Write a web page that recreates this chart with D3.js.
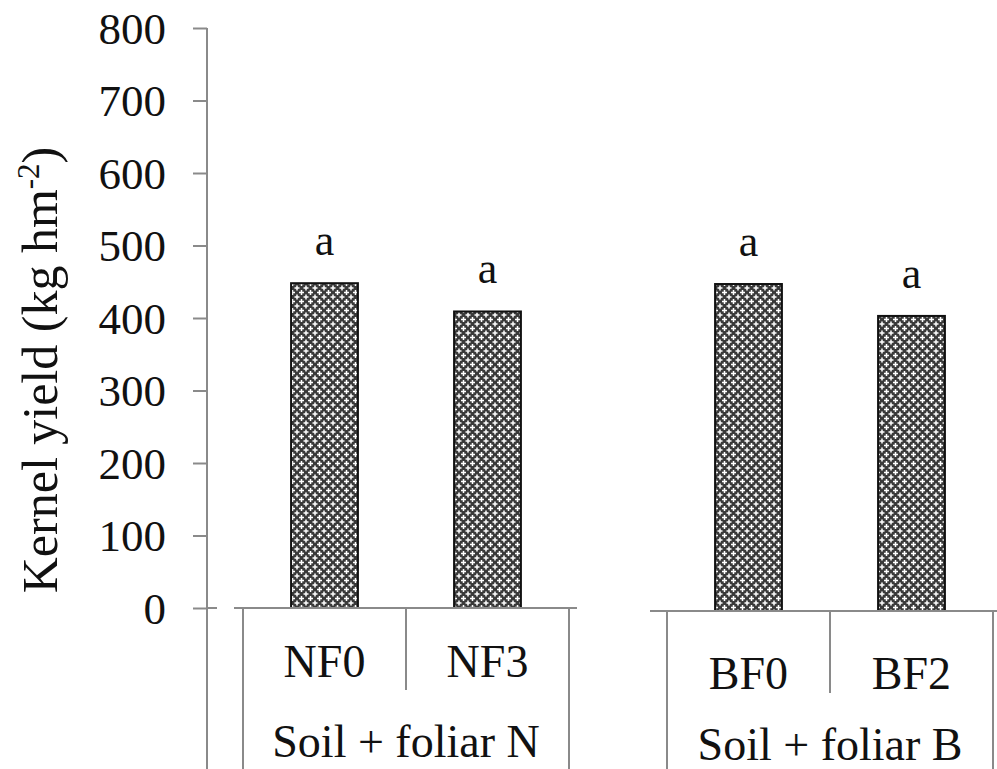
<!DOCTYPE html>
<html><head><meta charset="utf-8">
<script src="https://cdn.jsdelivr.net/npm/d3@7"></script>
<style>body{margin:0;background:#fff}svg{display:block}text{font-family:"Liberation Serif","Times New Roman",serif;fill:#111}</style>
</head><body><svg id="c" width="997" height="769"></svg>
<script>
const groupN = ["NF0","NF3"];
const valuesN = [448, 409];
const lettersN = ["a","a"];
const groupB = ["BF0","BF2"];
const valuesB = [451, 407];
const lettersB = ["a","a"];
const groupLabels = ["Soil + foliar N","Soil + foliar B"];
const yTicks = [0,100,200,300,400,500,600,700,800];
const yTitle = "Kernel yield (kg hm";

const svg = d3.select("#c");
const axisCol = "#8a8a8a";
const FF = "Liberation Serif";
const FS = 46;

// pattern
const defs = svg.append("defs");
const pat = defs.append("pattern").attr("id","hatch").attr("patternUnits","userSpaceOnUse")
  .attr("width",9).attr("height",9);
pat.append("rect").attr("width",9).attr("height",9).attr("fill","#3a3a3a");
[[4.5,4.5],[0,0],[9,0],[0,9],[9,9]].forEach(([cx,cy])=>{
  pat.append("rect").attr("x",cx-0.75).attr("y",cy-2.5).attr("width",1.5).attr("height",5).attr("fill","#fff");
  pat.append("rect").attr("x",cx-2.5).attr("y",cy-0.75).attr("width",5).attr("height",1.5).attr("fill","#fff");
});

// Left y scale/axis
const yL = d3.scaleLinear().domain([0,800]).range([608,28]);
const yAxis = d3.axisLeft(yL).tickValues(yTicks).tickSize(14).tickPadding(27).tickFormat(d3.format("d"));
const gy = svg.append("g").attr("transform","translate(207,0)").call(yAxis);
gy.select(".domain").remove();
gy.selectAll(".tick line").attr("stroke",axisCol).attr("stroke-width",2);
gy.selectAll(".tick text").attr("font-size",45).attr("font-family",FF).attr("fill","#111").attr("dy","0.34em");
svg.append("line").attr("x1",207).attr("x2",207).attr("y1",yL(800)).attr("y2",769).attr("stroke",axisCol).attr("stroke-width",2);
svg.append("line").attr("x1",207).attr("x2",217).attr("y1",yL(0)).attr("y2",yL(0)).attr("stroke",axisCol).attr("stroke-width",2);

// y title
const TS = 50;
svg.append("text").attr("transform","translate(57,370) rotate(-90)").attr("text-anchor","middle")
  .attr("font-size",TS).attr("font-family",FF)
  .call(t=>{t.append("tspan").text(yTitle);
            t.append("tspan").attr("font-size",TS*0.62).attr("dy",-18).text("-2");
            t.append("tspan").attr("dy",18).text(")");});

function panel(cats, vals, letters, label, x0, x1, y, lineStart, lineEnd, catY, grpY){
  const x = d3.scaleBand().domain(cats).range([x0,x1]).paddingInner(0.59).paddingOuter(0.295);
  const xb = d3.scaleBand().domain(cats).range([x0,x1]);
  const g = svg.append("g");
  g.selectAll("rect.bar").data(cats).join("rect").attr("class","bar")
    .attr("x",d=>x(d)).attr("width",x.bandwidth())
    .attr("y",(d,i)=>y(vals[i])).attr("height",(d,i)=>y(0)-y(vals[i]))
    .attr("fill","url(#hatch)").attr("stroke","#111").attr("stroke-width",2);
  g.selectAll("text.let").data(cats).join("text").attr("class","let")
    .attr("x",d=>x(d)+x.bandwidth()/2).attr("y",(d,i)=>y(vals[i])-28)
    .attr("text-anchor","middle").attr("font-size",44).attr("font-family",FF).text((d,i)=>letters[i]);
  g.append("line").attr("x1",lineStart).attr("x2",lineEnd).attr("y1",y(0)).attr("y2",y(0)).attr("stroke",axisCol).attr("stroke-width",2);
  [x0,x1].forEach(v=>g.append("line").attr("x1",v).attr("x2",v).attr("y1",y(0)).attr("y2",769).attr("stroke",axisCol).attr("stroke-width",2));
  g.append("line").attr("x1",xb(cats[1])).attr("x2",xb(cats[1])).attr("y1",y(0)).attr("y2",y(0)+82).attr("stroke",axisCol).attr("stroke-width",2);
  g.selectAll("text.cat").data(cats).join("text").attr("class","cat")
    .attr("x",d=>xb(d)+xb.bandwidth()/2).attr("y",catY).attr("text-anchor","middle")
    .attr("font-size",FS).attr("font-family",FF).text(d=>d);
  g.append("text").attr("x",(x0+x1)/2).attr("y",grpY).attr("text-anchor","middle")
    .attr("font-size",FS).attr("font-family",FF).text(label);
}

panel(groupN, valuesN, lettersN, groupLabels[0], 243, 569, yL, 234, 577, 677, 757);
const yR = d3.scaleLinear().domain([0,800]).range([611,31]);
panel(groupB, valuesB, lettersB, groupLabels[1], 667, 993, yR, 650, 997, 689, 760);
</script></body></html>
